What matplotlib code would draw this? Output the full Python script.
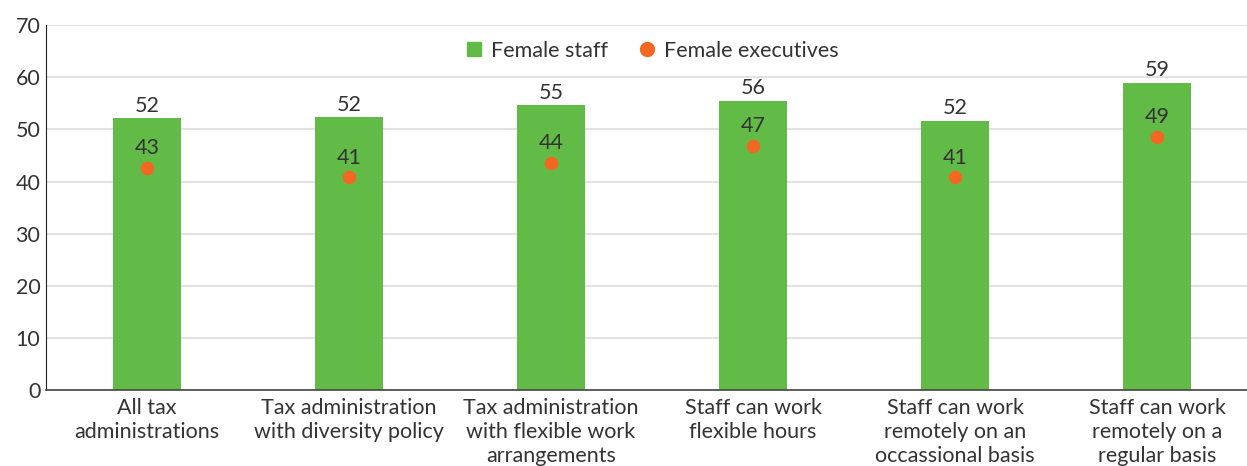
import matplotlib
matplotlib.use("Agg")
import matplotlib.pyplot as plt
from matplotlib.lines import Line2D

# Share of women among staff and executives, by workplace policy
categories = [
    "All tax\nadministrations",
    "Tax administration\nwith diversity policy",
    "Tax administration\nwith flexible work\narrangements",
    "Staff can work\nflexible hours",
    "Staff can work\nremotely on an\noccassional basis",
    "Staff can work\nremotely on a\nregular basis",
]
female_staff = [52.1, 52.3, 54.6, 55.5, 51.7, 59.0]
female_executives = [42.6, 40.8, 43.6, 46.8, 40.8, 48.6]
y_ticks = [0, 10, 20, 30, 40, 50, 60, 70]

GREEN = "#62BB46"
ORANGE = "#F26722"
TEXT = "#333333"
FS = 15.5

plt.rcParams["font.family"] = ["Lato", "DejaVu Sans"]

fig = plt.figure(figsize=(12.47, 4.66), dpi=100)
# plot area runs a little past the right edge so the grid bleeds off
ax = fig.add_axes([0.0369, 0.163, 0.972, 0.783])

x = list(range(len(categories)))
ax.bar(x, female_staff, width=0.335, color=GREEN, zorder=2)
ax.scatter(x, female_executives, s=95, color=ORANGE, zorder=3, linewidths=0)

for xi, v in zip(x, female_staff):
    ax.annotate(f"{v:.0f}", (xi, v), xytext=(0, 2), textcoords="offset points",
                ha="center", va="bottom", fontsize=FS, color=TEXT)
for xi, v in zip(x, female_executives):
    ax.annotate(f"{v:.0f}", (xi, v), xytext=(0, 7), textcoords="offset points",
                ha="center", va="bottom", fontsize=FS, color=TEXT)

ax.set_xlim(-0.5, len(categories) - 0.5)
ax.set_ylim(0, 70)
ax.set_yticks(y_ticks)
ax.set_xticks(x)
ax.set_xticklabels(categories, fontsize=FS, color=TEXT, linespacing=1.25)
ax.tick_params(axis="y", labelsize=FS, labelcolor=TEXT, length=0, pad=4)
ax.tick_params(axis="x", length=0, pad=6)
ax.yaxis.grid(True, color="#DDDDDD", linewidth=1.2, zorder=0)
ax.set_axisbelow(True)

for s in ["top", "right"]:
    ax.spines[s].set_visible(False)
ax.spines["left"].set_color("#222222")
ax.spines["bottom"].set_color("#444444")
ax.spines["bottom"].set_linewidth(1.2)

handles = [
    Line2D([], [], marker="s", linestyle="", color=GREEN, markersize=10),
    Line2D([], [], marker="o", linestyle="", color=ORANGE, markersize=10),
]
leg = ax.legend(handles, ["Female staff", "Female executives"], loc="upper center",
                bbox_to_anchor=(0.5, 1.01), ncol=2, frameon=False, fontsize=FS,
                handlelength=0.8, handletextpad=0.4, columnspacing=1.4,
                labelcolor=TEXT)

fig.savefig("out.png", dpi=100)
